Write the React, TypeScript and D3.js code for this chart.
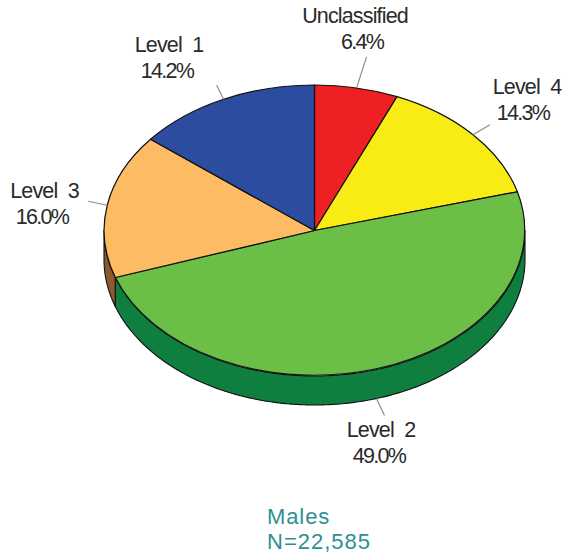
import React from 'react';
import * as d3 from 'd3';

const categories = ['Unclassified', 'Level 4', 'Level 2', 'Level 3', 'Level 1'];
const shares = [6.4, 14.3, 49.0, 16.0, 14.2];
const topColors = ['#ee2024', '#f8ec14', '#6cbf46', '#fdbb63', '#2b4c9f'];
const sideColors = ['#a01518', '#a89f10', '#0f7f40', '#8a5a2e', '#1b3270'];

// label placement, same order as categories:
// [name centre x, percent centre x, first baseline y, leader dx, leader dy]
const labelSpots = [
  [355, 362, 23, 10, -31],
  [527, 523, 94, 17, -10],
  [381, 379, 437, 8, 17],
  [44.5, 42, 198, -19, -4],
  [169, 167, 52, -7, -14],
];

const width = 565;
const height = 554;
const cx = 314.5;
const cy = 230.5;
const rx = 210.5;
const ry = 145.5;
const depth = 29;
const fontFamily = '"Liberation Sans", Arial, sans-serif';

const slices = d3.pie<number>().sort(null).value((d) => d)(shares);

const arcPath = d3.arc<d3.PieArcDatum<number>>().innerRadius(0).outerRadius(1);

const px = (a: number) => rx * Math.sin(a);
const py = (a: number) => -ry * Math.cos(a);

// rim of the disc, only the front half can be seen
const sidePath = (d: d3.PieArcDatum<number>) => {
  const from = Math.max(d.startAngle, Math.PI / 2);
  const to = Math.min(d.endAngle, (3 * Math.PI) / 2);
  if (from >= to) return null;
  const angles = d3.range(from, to, 0.01).concat(to);
  return d3
    .area<number>()
    .x((a) => px(a))
    .y0((a) => py(a))
    .y1((a) => py(a) + depth)(angles);
};

const App = () => {
  return (
    <svg
      width={width}
      height={height}
      style={{ position: 'absolute', left: 0, top: 0, background: '#fff' }}
      fontFamily={fontFamily}
    >
      <g transform={`translate(${cx},${cy})`}>
        {slices.map((d, i) => {
          const side = sidePath(d);
          return side ? (
            <path key={i} d={side} fill={sideColors[i]} stroke="#111" strokeWidth={1.1} strokeLinejoin="round" />
          ) : null;
        })}
        <g transform={`scale(${rx},${ry})`}>
          {slices.map((d, i) => (
            <path
              key={i}
              d={arcPath(d) as string}
              fill={topColors[i]}
              stroke="#111"
              strokeWidth={1.2}
              vectorEffect="non-scaling-stroke"
              strokeLinejoin="round"
            />
          ))}
        </g>
      </g>

      {slices.map((d, i) => {
        const mid = (d.startAngle + d.endAngle) / 2;
        const [nameX, pctX, ty, ldx, ldy] = labelSpots[i];
        const front = mid > Math.PI / 2 && mid < (3 * Math.PI) / 2;
        const x0 = cx + px(mid);
        const y0 = cy + py(mid) + (front ? depth : 0);
        const words = categories[i].split(' ');
        return (
          <g key={categories[i]}>
            <line x1={x0} y1={y0} x2={x0 + ldx} y2={y0 + ldy} stroke="#8c8c8c" strokeWidth={1.2} />
            <text
              x={nameX}
              y={ty}
              textAnchor="middle"
              fontSize={21.5}
              fill="#2a2a2a"
              letterSpacing={-0.85}
              style={{ whiteSpace: 'pre' }}
            >
              {words.join('  ')}
            </text>
            <text x={pctX} y={ty + 26} textAnchor="middle" fontSize={21.5} fill="#2a2a2a" letterSpacing={-1.7}>
              {shares[i].toFixed(1)}%
            </text>
          </g>
        );
      })}

      <text x={267} y={524} fontSize={22} letterSpacing={0.9} fill="#2f8f90">
        Males
      </text>
      <text x={267} y={549} fontSize={22} letterSpacing={1} fill="#2f8f90">
        N=22,585
      </text>
    </svg>
  );
};

export default App;
